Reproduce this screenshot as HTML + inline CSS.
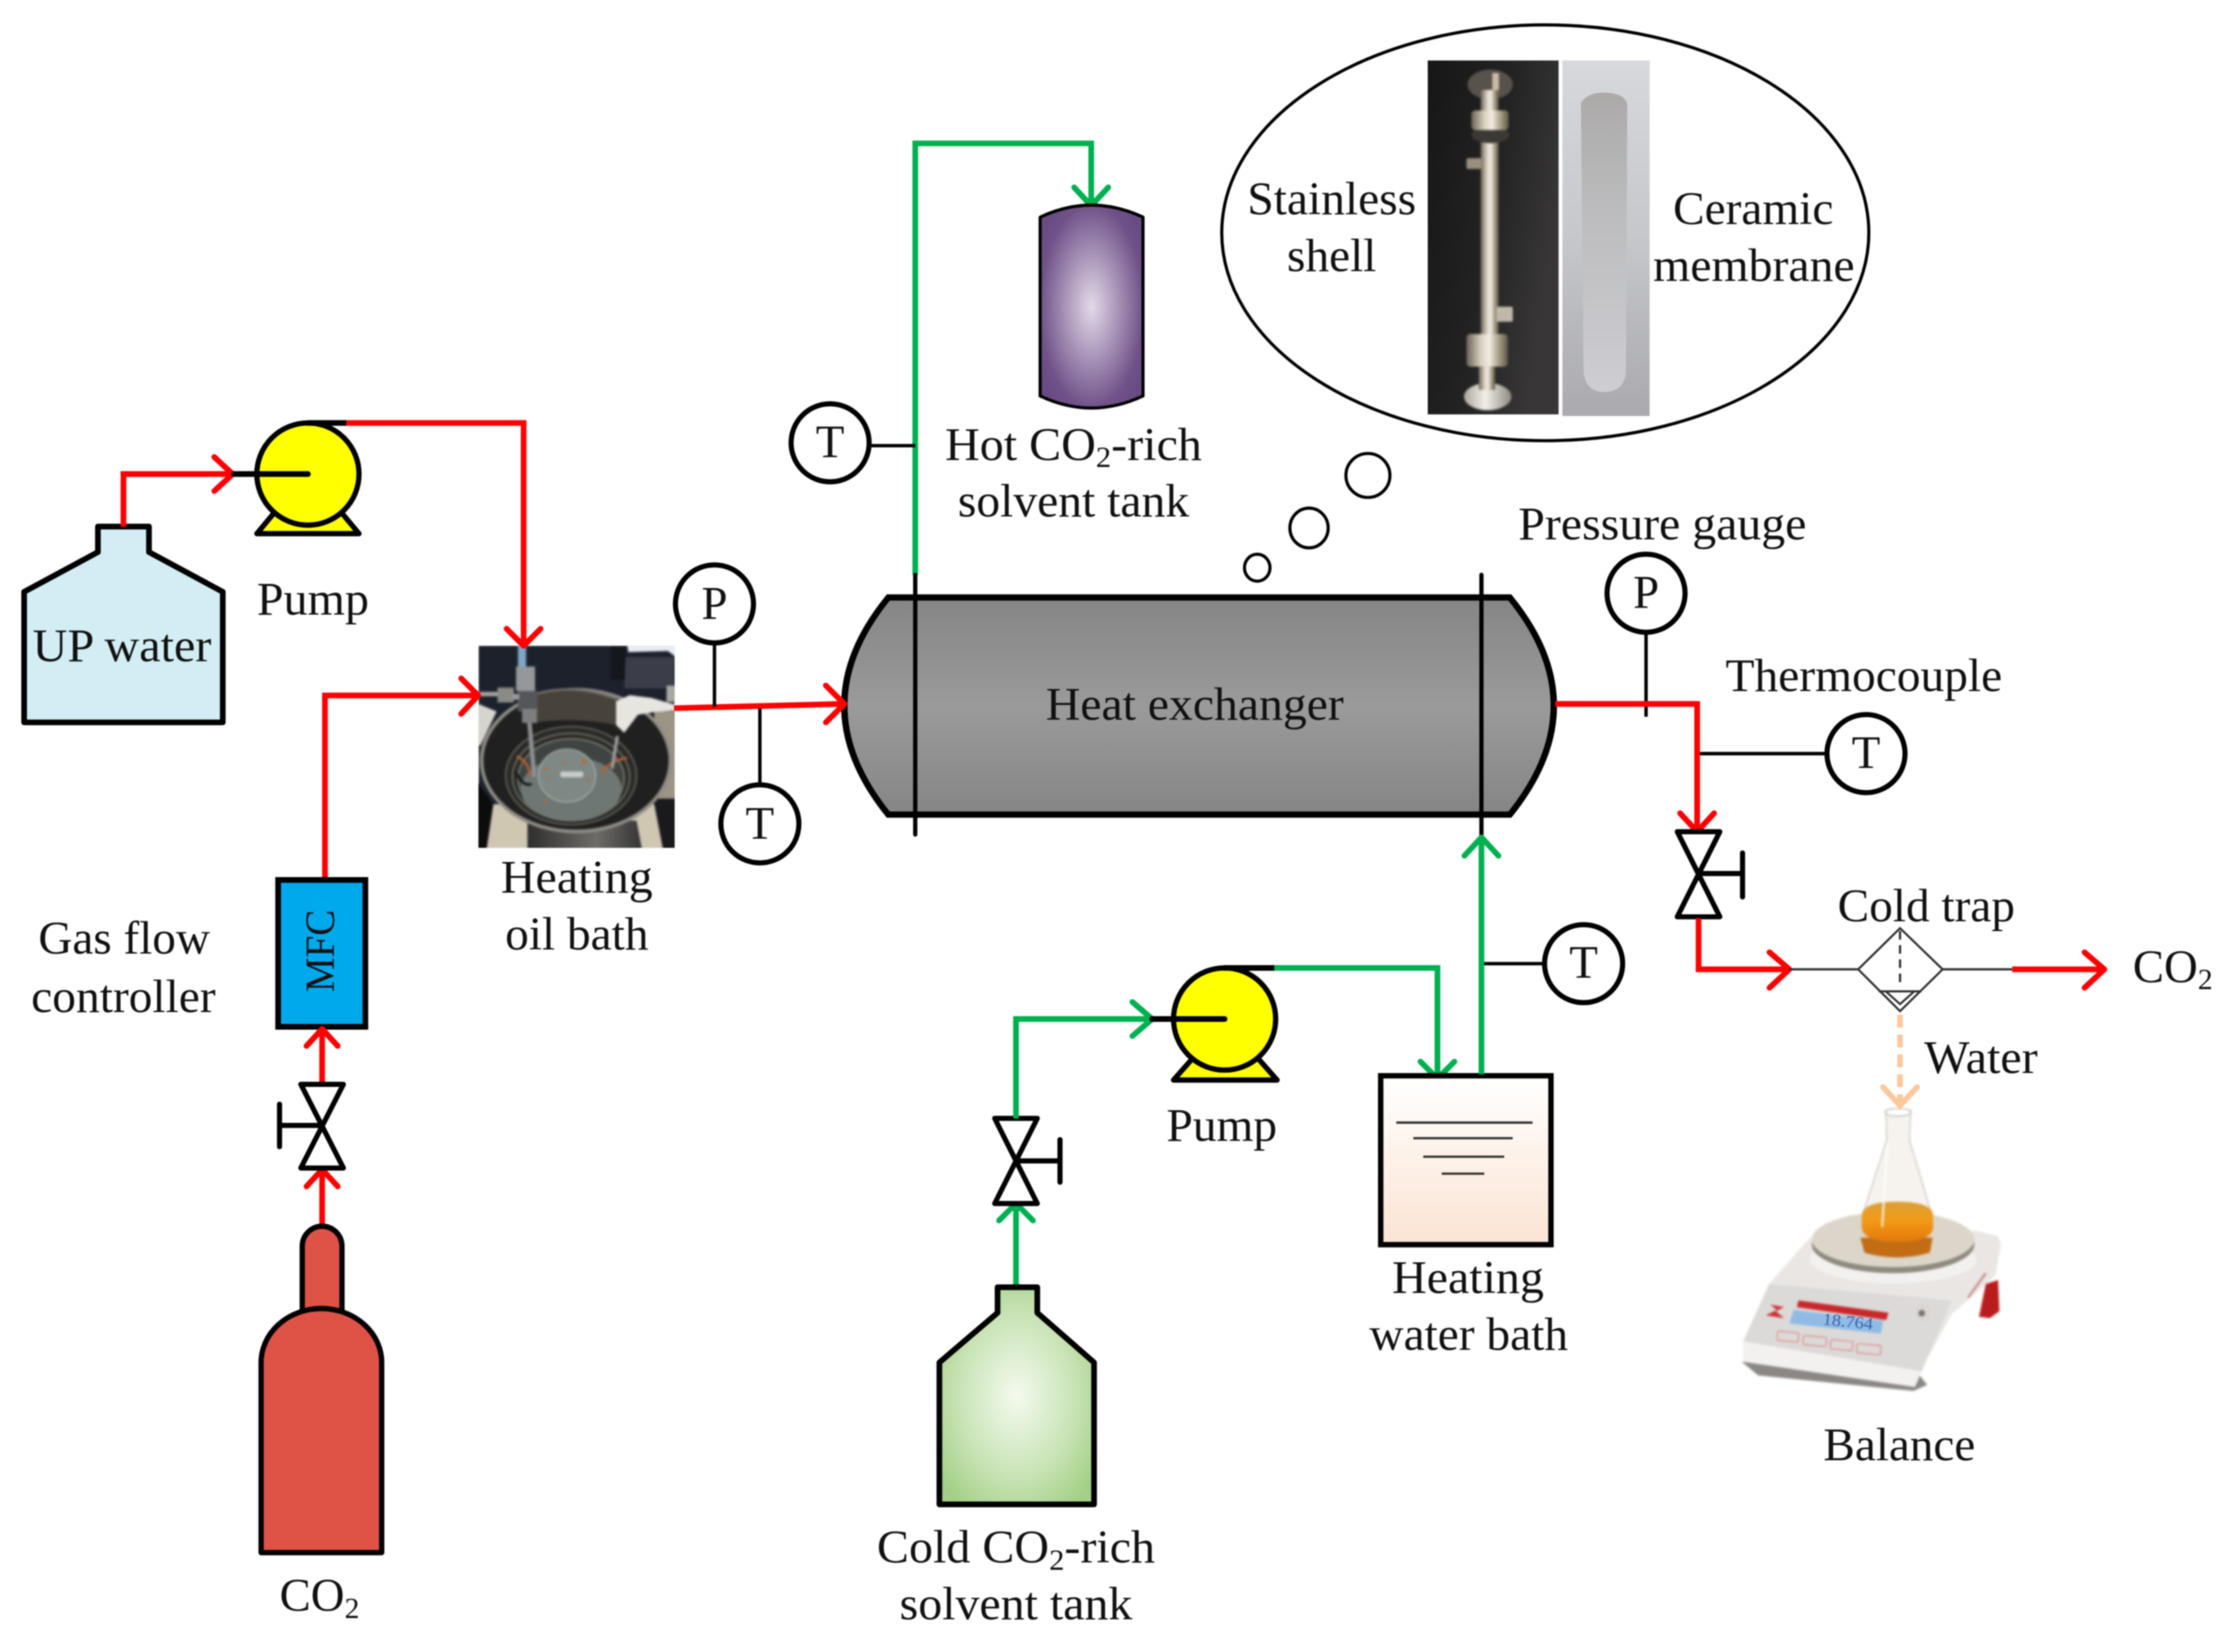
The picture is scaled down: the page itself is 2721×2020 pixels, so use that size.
<!DOCTYPE html>
<html lang="en">
<head>
<meta charset="utf-8">
<title>Experimental setup diagram</title>
<style>
html,body{margin:0;padding:0;background:#fff}
svg{display:block;filter:blur(0.7px)}
text{font-family:"Liberation Serif",serif;font-size:33px;fill:#111}
.r{fill:none;stroke:#ff0000;stroke-width:4;stroke-linejoin:miter}
.g{fill:none;stroke:#00b050;stroke-width:4}
.a{stroke-linecap:round;stroke-linejoin:round}
.k{fill:none;stroke:#000;stroke-width:2.4}
.o{fill:#fff;stroke:#000;stroke-width:3.6}
.s{stroke:#000;stroke-width:3.7;stroke-linejoin:round}
.soft{filter:blur(4px)}
</style>
</head>
<body>
<svg xmlns="http://www.w3.org/2000/svg" width="2721" height="2020" viewBox="0 0 1568 1164">
<defs>
<linearGradient id="hx" x1="0" y1="0" x2="0" y2="1"><stop offset="0" stop-color="#858585"/><stop offset=".5" stop-color="#9a9a9a"/><stop offset="1" stop-color="#858585"/></linearGradient>
<radialGradient id="pur" cx=".5" cy=".5" r=".6"><stop offset="0" stop-color="#e2dae8"/><stop offset=".83" stop-color="#705289"/><stop offset="1" stop-color="#694b84"/></radialGradient>
<radialGradient id="grn" cx=".5" cy=".5" r=".62"><stop offset="0" stop-color="#f4faef"/><stop offset=".6" stop-color="#c9e3b6"/><stop offset="1" stop-color="#a3d086"/></radialGradient>
<linearGradient id="bath" x1="0" y1="0" x2="0" y2="1"><stop offset="0" stop-color="#ffffff"/><stop offset="1" stop-color="#fbe3d3"/></linearGradient>
<linearGradient id="shellbg" x1="0" y1="0" x2="1" y2=".4"><stop offset="0" stop-color="#161616"/><stop offset=".55" stop-color="#222222"/><stop offset="1" stop-color="#383636"/></linearGradient>
<linearGradient id="cerbg" x1="0" y1="0" x2="0" y2="1"><stop offset="0" stop-color="#d6d8db"/><stop offset=".5" stop-color="#c6c7ca"/><stop offset="1" stop-color="#a9a9ae"/></linearGradient>
<linearGradient id="cert" x1="0" y1="0" x2="0" y2="1"><stop offset="0" stop-color="#aba9a8"/><stop offset=".4" stop-color="#bcbcbe"/><stop offset="1" stop-color="#cdcdd2"/></linearGradient>
<linearGradient id="steel" x1="0" y1="0" x2="1" y2="0"><stop offset="0" stop-color="#6a6358"/><stop offset=".35" stop-color="#d8d0bf"/><stop offset=".55" stop-color="#f3eee4"/><stop offset=".8" stop-color="#a0987f"/><stop offset="1" stop-color="#5e584c"/></linearGradient>
<linearGradient id="pan" x1="0" y1="0" x2="1" y2="0"><stop offset="0" stop-color="#a9a79e"/><stop offset=".45" stop-color="#f2efe8"/><stop offset="1" stop-color="#8d8a80"/></linearGradient>
<linearGradient id="oil" x1="0" y1="0" x2="0" y2="1"><stop offset="0" stop-color="#d9a039"/><stop offset=".45" stop-color="#f39a18"/><stop offset="1" stop-color="#e27a0c"/></linearGradient>
<linearGradient id="potf" x1="0" y1="0" x2="1" y2="0"><stop offset="0" stop-color="#2e2e2e"/><stop offset=".6" stop-color="#6d6c68"/><stop offset="1" stop-color="#343434"/></linearGradient>
<clipPath id="oc"><rect x="45" y="58" width="720" height="742"/></clipPath>
<clipPath id="sc"><rect x="18" y="12" width="480" height="1298"/></clipPath>
</defs>

<!-- Inset bubble -->
<ellipse cx="1089" cy="164" rx="228" ry="146.5" fill="#fff" stroke="#000" stroke-width="2.2"/>
<g transform="translate(1002.7,40.3) scale(.1921)">
<rect x="18" y="12" width="480" height="1298" fill="url(#shellbg)"/>
<rect x="512" y="12" width="320" height="1304" fill="url(#cerbg)"/>
<path d="M580,170 Q600,130 665,130 Q735,130 750,170 L745,1160 Q735,1228 665,1228 Q600,1228 590,1160 Z" fill="url(#cert)"/>
<g clip-path="url(#sc)"><g class="soft">
<ellipse cx="247" cy="100" rx="83" ry="55" fill="#57524b"/>
<rect x="255" y="58" width="24" height="70" fill="#c8bda9"/>
<ellipse cx="238" cy="1245" rx="87" ry="50" fill="url(#pan)"/>
<rect x="212" y="120" width="66" height="1010" fill="url(#steel)"/>
<ellipse cx="248" cy="285" rx="70" ry="30" fill="#3c3935"/>
<rect x="178" y="195" width="137" height="72" rx="14" fill="url(#steel)"/>
<rect x="160" y="370" width="55" height="40" rx="6" fill="#9a8f7e"/>
<rect x="270" y="915" width="60" height="55" rx="6" fill="#c1b8a9"/>
<rect x="160" y="1015" width="152" height="120" rx="14" fill="url(#steel)"/>
<rect x="205" y="1135" width="60" height="85" fill="url(#steel)"/>
</g></g>
</g>
<text x="879" y="151" textLength="119" lengthAdjust="spacingAndGlyphs">Stainless</text>
<text x="907" y="191" textLength="63" lengthAdjust="spacingAndGlyphs">shell</text>
<text x="1179" y="158" textLength="113" lengthAdjust="spacingAndGlyphs">Ceramic</text>
<text x="1165" y="198" textLength="142" lengthAdjust="spacingAndGlyphs">membrane</text>
<ellipse cx="964" cy="335" rx="15.5" ry="15.5" fill="#fff" stroke="#000" stroke-width="2.2"/>
<ellipse cx="922.5" cy="372" rx="13.5" ry="14" fill="#fff" stroke="#000" stroke-width="2.2"/>
<ellipse cx="886" cy="400" rx="9" ry="9.5" fill="#fff" stroke="#000" stroke-width="2.2"/>

<!-- Bottle UP water -->
<path class="s" fill="#d2eef4" d="M69,371 L105,371 L105,389 L157,417 L157,509 L17,509 L17,417 L69,389 Z" style="stroke-width:4"/>
<text x="23" y="466" textLength="126" lengthAdjust="spacingAndGlyphs">UP water</text>
<path class="r" d="M87,371 V334 H163"/>
<path class="r a" d="M151,322 L164,334 L151,346"/>

<!-- Oil bath photo -->
<g transform="translate(328.5,443.7) scale(.1921)">
<g clip-path="url(#oc)"><g class="soft">
<rect x="45" y="58" width="720" height="742" fill="#1c212b"/>
<path d="M590,50 H770 V100 L740,78 L595,82 Z" fill="#e9ecf4"/>
<rect x="530" y="58" width="55" height="125" fill="#14171c"/>
<path d="M585,100 H770 V215 H580 Z" fill="#3b3e49"/>
<path d="M40,270 L112,300 L52,425 H40 Z" fill="#d6d5cd"/>
<path d="M40,560 L100,640 L80,805 H40 Z" fill="#0c0c0d"/>
<path d="M690,300 L770,300 V620 H690 Z" fill="#9c9484"/>
<path d="M690,620 L770,620 V805 H722 Z" fill="#1a1a1c"/>
<path d="M100,640 H690 L722,805 H75 Z" fill="#cfc7b2"/>
<path d="M225,700 H625 L645,805 H225 Z" fill="url(#potf)"/>
<ellipse cx="403" cy="480" rx="346" ry="260" fill="#202020" stroke="#8f8d86" stroke-width="13"/>
<path d="M255,235 Q400,195 555,255 V350 Q400,320 255,340 Z" fill="#47433a"/>
<path d="M255,235 Q400,195 555,255" stroke="#726f66" stroke-width="8" fill="none"/>
<ellipse cx="385" cy="535" rx="240" ry="180" fill="#2a2b29" stroke="#5f5c54" stroke-width="6"/>
<ellipse cx="385" cy="540" rx="215" ry="160" fill="none" stroke="#6d6a60" stroke-width="6"/>
<ellipse cx="385" cy="545" rx="195" ry="145" fill="#3f4442" stroke="#77746a" stroke-width="6"/>
<ellipse cx="385" cy="585" rx="185" ry="118" fill="#6f7774"/>
<ellipse cx="370" cy="535" rx="105" ry="97" fill="#7e8885" stroke="#aab0ac" stroke-width="4"/>
<rect x="345" y="520" width="85" height="21" rx="8" fill="#c8ccca"/>
<path d="M185,465 Q225,480 235,530 M495,525 Q530,480 590,470" stroke="#b3622c" stroke-width="9" fill="none"/>
<path d="M180,520 Q210,580 240,565" stroke="#141414" stroke-width="9" fill="none"/>
<g fill="#b76a3a"><circle cx="432" cy="485" r="9"/><circle cx="293" cy="510" r="6"/><circle cx="360" cy="488" r="5"/><circle cx="448" cy="550" r="5"/><circle cx="294" cy="632" r="6"/><circle cx="297" cy="540" r="4"/></g>
<path d="M232,340 L250,540" stroke="#8e8f92" stroke-width="16" fill="none"/>
<path d="M555,390 L535,510" stroke="#9a9b9d" stroke-width="12" fill="none"/>
<rect x="190" y="58" width="30" height="78" fill="#7fa6c8"/>
<rect x="183" y="135" width="70" height="90" fill="#96979a"/>
<rect x="190" y="225" width="72" height="75" fill="#55565a"/>
<rect x="205" y="290" width="55" height="52" fill="#7d7e80"/>
<rect x="48" y="228" width="80" height="16" fill="#a5a5a5"/>
<rect x="115" y="212" width="60" height="55" fill="#8a8a86"/>
<rect x="170" y="235" width="25" height="22" fill="#999"/>
<rect x="735" y="205" width="35" height="60" fill="#a9a99f"/>
<path d="M550,262 L600,240 L680,250 L765,275 V297 L690,302 L630,312 L580,378 L550,350 Z" fill="#e6e5df"/>
</g></g>
</g>
<text x="353" y="629" textLength="107" lengthAdjust="spacingAndGlyphs">Heating</text>
<text x="356" y="669" textLength="101" lengthAdjust="spacingAndGlyphs">oil bath</text>

<!-- Pump 1 -->
<path class="s" fill="#ffff00" d="M196,358 L181,376 H253 L238,358 Z"/>
<ellipse cx="217" cy="334" rx="36" ry="36" fill="#ffff00" stroke="#000" stroke-width="3.7"/>
<path d="M165,334 H217 M217,298 H244" stroke="#000" stroke-width="4" stroke-linecap="round" fill="none"/>
<path class="r" d="M244,298 H369 V452"/>
<path class="r a" d="M357,443 L369,455 L381,443"/>
<text x="181" y="433" textLength="79" lengthAdjust="spacingAndGlyphs">Pump</text>

<!-- Gas feed -->
<path class="r" d="M229,619 V490 H335"/>
<path class="r a" d="M325,478 L337,490 L325,503"/>
<rect x="196" y="620" width="61.5" height="103.5" fill="#00a8ec" stroke="#000" stroke-width="4"/>
<text transform="translate(235.5,699) rotate(-90)" style="font-size:29px" textLength="58" lengthAdjust="spacingAndGlyphs">MFC</text>
<path class="r" d="M227,765 V726"/>
<path class="r a" d="M216,737 L227,725 L238,737"/>
<path class="r" d="M227,865 V826"/>
<path class="r a" d="M216,836 L227,824 L238,836"/>
<path class="o" d="M212,764 H242 L212,823 H242 Z" style="stroke-linejoin:round"/>
<path d="M227,793 H197 M197,778 V808" stroke="#000" stroke-width="3.6" stroke-linecap="round" fill="none"/>
<path class="s" fill="#df5246" d="M213,925 L213,878 A14,14 0 0 1 241,878 L241,925 Z"/>
<path class="s" fill="#df5246" d="M184,960 A42.5,38 0 0 1 269,960 L269,1094 L184,1094 Z"/>
<text x="27" y="672" textLength="121" lengthAdjust="spacingAndGlyphs">Gas flow</text>
<text x="22" y="713" textLength="130" lengthAdjust="spacingAndGlyphs">controller</text>
<text x="197" y="1135">CO<tspan style="font-size:21px" dy="5">2</tspan></text>

<!-- Heat exchanger -->
<path d="M626,421 L1064,421 Q1126,497 1064,574 L626,574 Q564,497 626,421 Z" fill="url(#hx)" stroke="#000" stroke-width="4.4" stroke-linejoin="miter"/>
<text x="737" y="507" textLength="210" lengthAdjust="spacingAndGlyphs">Heat exchanger</text>
<path class="g" d="M645,405 V101 H769 V143"/>
<path class="g a" d="M757,132 L769,145 L781,132"/>
<path d="M645,405 V588 M1044,405 V590" stroke="#000" stroke-width="3" stroke-linecap="round" fill="none"/>

<!-- Inlet / outlet instruments -->
<path class="r" d="M475,499 L593,496"/>
<path class="r a" d="M582,483 L595,496 L582,509"/>
<path class="k" d="M503.5,453 V498 M535.5,499 V552 M613,314 H645 M1160,446 V505 M1198,531 H1287 M1045,679 H1088"/>
<circle class="o" cx="503.5" cy="425.5" r="27.5"/>
<text x="503.5" y="436" text-anchor="middle">P</text>
<circle class="o" cx="535.5" cy="580.5" r="27.5"/>
<text x="535.5" y="591" text-anchor="middle">T</text>
<circle class="o" cx="585" cy="312" r="27.5"/>
<text x="585" y="322" text-anchor="middle">T</text>
<circle class="o" cx="1160" cy="418" r="27.5"/>
<text x="1160" y="428" text-anchor="middle">P</text>
<circle class="o" cx="1315" cy="531" r="27.5"/>
<text x="1315" y="541" text-anchor="middle">T</text>
<circle class="o" cx="1116" cy="679" r="27.5"/>
<text x="1116" y="689" text-anchor="middle">T</text>

<!-- Hot tank -->
<path class="s" fill="url(#pur)" d="M733,153 Q769,136 805.5,153 L805.5,279 Q769,296 733,279 Z" style="stroke-width:2.2"/>
<text x="666" y="324" textLength="181" lengthAdjust="spacingAndGlyphs">Hot CO<tspan style="font-size:21px" dy="5">2</tspan><tspan dy="-5">-rich</tspan></text>
<text x="675" y="364" textLength="163" lengthAdjust="spacingAndGlyphs">solvent tank</text>

<!-- Outlet -->
<path class="r" d="M1096,496 H1196 V584"/>
<path class="r a" d="M1184,573 L1196,586 L1208,573"/>
<path class="o" d="M1182,586 H1212 L1182,646 H1212 Z" style="stroke-linejoin:round"/>
<path d="M1197,615.5 H1228 M1228,601 V632" stroke="#000" stroke-width="3.6" stroke-linecap="round" fill="none"/>
<path class="r" d="M1197,647 V683 H1259"/>
<path class="r a" d="M1247,671 L1261,683 L1247,696"/>
<text x="1070" y="380" textLength="203" lengthAdjust="spacingAndGlyphs">Pressure gauge</text>
<text x="1216" y="487" textLength="195" lengthAdjust="spacingAndGlyphs">Thermocouple</text>

<!-- Cold trap -->
<path d="M1261,683 H1309.5 M1369,683 H1418" stroke="#333" stroke-width="1.6" fill="none"/>
<path d="M1339,654 L1369,683 L1339,712.5 L1309.5,683 Z M1324,698.5 H1354 M1329.5,699 L1339,707.5 L1348.5,699" fill="#fff" stroke="#333" stroke-width="1.5"/>
<path d="M1339,656 V693" stroke="#333" stroke-width="1.6" stroke-dasharray="6 4" fill="none"/>
<path class="r" d="M1418,683 H1481"/>
<path class="r a" d="M1469,671 L1483,683 L1469,696"/>
<text x="1295" y="649" textLength="125" lengthAdjust="spacingAndGlyphs">Cold trap</text>
<text x="1503" y="692">CO<tspan style="font-size:21px" dy="5">2</tspan></text>
<text x="1356" y="756" textLength="80" lengthAdjust="spacingAndGlyphs">Water</text>

<!-- Balance -->
<g transform="translate(1210.2,772.2) scale(.1921)">
<g class="soft">
<path d="M90,975 L150,1025 L720,1082 L770,1060 L730,1010 Z" fill="#8a8785"/>
<path d="M985,690 L1030,675 L1035,790 L1000,815 L960,810 Z" fill="#b91c1c"/>
<path d="M340,520 L950,495 L1030,515 L1040,545 L1020,660 L860,800 L745,1010 L725,1065 L95,975 L95,900 L190,690 Z" fill="#e9e6e4"/>
<path d="M190,690 L860,750 L750,1010 L95,900 Z" fill="#dcdad9"/>
<path d="M95,900 L750,1010 L725,1068 L95,975 Z" fill="#f3f1f0"/>
<ellipse cx="645" cy="600" rx="305" ry="88" fill="#f3f1ef"/>
<ellipse cx="645" cy="545" rx="298" ry="105" fill="#8f8a7e"/>
<ellipse cx="645" cy="526" rx="298" ry="102" fill="#dbd6c9"/>
<path d="M525,520 H790 L780,575 Q660,610 540,575 Z" fill="#c26d14"/>
<path d="M618,52 H710 L705,160 L785,430 V470 H535 V430 L622,160 Z" fill="#f6f3ee" stroke="#c8c5c0" stroke-width="4"/>
<ellipse cx="663" cy="60" rx="48" ry="14" fill="#fff" stroke="#b9b6b0" stroke-width="4"/>
<path d="M530,440 Q530,388 660,388 Q792,388 792,440 V480 Q790,535 660,535 Q532,535 530,480 Z" fill="url(#oil)"/>
<path d="M625,170 L605,480" stroke="#fff" stroke-width="6" fill="none"/>
<path d="M298,750 L628,795 L620,822 L292,775 Z" fill="#c8282a"/>
<path d="M280,785 L608,825 L600,872 L265,835 Z" fill="#8fbbe4"/>
<path d="M195,765 L245,775 L215,790 L245,815 L178,805 L218,785 Z" fill="#cc3030"/>
<g fill="none" stroke="#d88c8a" stroke-width="4">
<rect x="220" y="866" width="78" height="34" rx="6" transform="rotate(5 259 883)"/>
<rect x="315" y="882" width="85" height="34" rx="6" transform="rotate(5 357 899)"/>
<rect x="415" y="897" width="82" height="34" rx="6" transform="rotate(5 456 914)"/>
<rect x="512" y="912" width="88" height="34" rx="6" transform="rotate(5 556 929)"/>
</g>
<circle cx="755" cy="795" r="30" fill="#d9d6d4"/><circle cx="750" cy="797" r="12" fill="#77726f"/>
<path d="M920,740 L985,650" stroke="#c98a85" stroke-width="8" fill="none"/>
</g>
<text transform="translate(385,838) rotate(6)" style="font-size:62px;fill:#3f63a8" textLength="185" lengthAdjust="spacingAndGlyphs">18.764</text>
</g>
<path d="M1339,715 V777" stroke="#fcc99c" stroke-width="4" stroke-dasharray="9 5" fill="none"/>
<path d="M1327,766 L1339,779 L1351,766" stroke="#fcc99c" stroke-width="4" fill="none" stroke-linecap="round"/>
<text x="1285" y="1029" textLength="107" lengthAdjust="spacingAndGlyphs">Balance</text>

<!-- Lower feed -->
<path class="g" d="M716,906 V850"/>
<path class="g a" d="M704,860 L716,848 L728,860"/>
<path class="o" d="M701,788 H731 L701,848 H731 Z" style="stroke-linejoin:round"/>
<path d="M716,818 H747 M747,803 V833" stroke="#000" stroke-width="3.6" stroke-linecap="round" fill="none"/>
<path class="g" d="M716,788 V718 H810"/>
<path class="g a" d="M798,706 L812,718 L798,730"/>
<path class="s" fill="#ffff00" d="M842,744 L827,761 H900 L885,744 Z"/>
<circle cx="863" cy="718" r="36" fill="#ffff00" stroke="#000" stroke-width="3.7"/>
<path d="M812,718 H863 M863,682 H898" stroke="#000" stroke-width="4" stroke-linecap="round" fill="none"/>
<path class="g" d="M898,682 H1013 V758"/>
<path class="g a" d="M1001,748 L1013,760 L1025,748"/>
<text x="822" y="804" textLength="78" lengthAdjust="spacingAndGlyphs">Pump</text>
<path class="s" fill="url(#grn)" d="M703,907 H731 V925 L771,960 V1060 H662 V960 L703,925 Z" style="stroke-width:4"/>
<text x="618" y="1101" textLength="196" lengthAdjust="spacingAndGlyphs">Cold CO<tspan style="font-size:21px" dy="5">2</tspan><tspan dy="-5">-rich</tspan></text>
<text x="634" y="1141" textLength="164" lengthAdjust="spacingAndGlyphs">solvent tank</text>
<rect x="973" y="758" width="120" height="119" fill="url(#bath)" stroke="#000" stroke-width="3.8"/>
<path d="M984,791 H1080 M996,802 H1066 M1003,815 H1060 M1016,827 H1046" stroke="#333" stroke-width="1.6" fill="none"/>
<path class="g" d="M1044,757 V592"/>
<path class="g a" d="M1032,603 L1044,590 L1056,603"/>
<text x="981" y="911" textLength="107" lengthAdjust="spacingAndGlyphs">Heating</text>
<text x="965" y="951" textLength="140" lengthAdjust="spacingAndGlyphs">water bath</text>
</svg>
</body>
</html>
